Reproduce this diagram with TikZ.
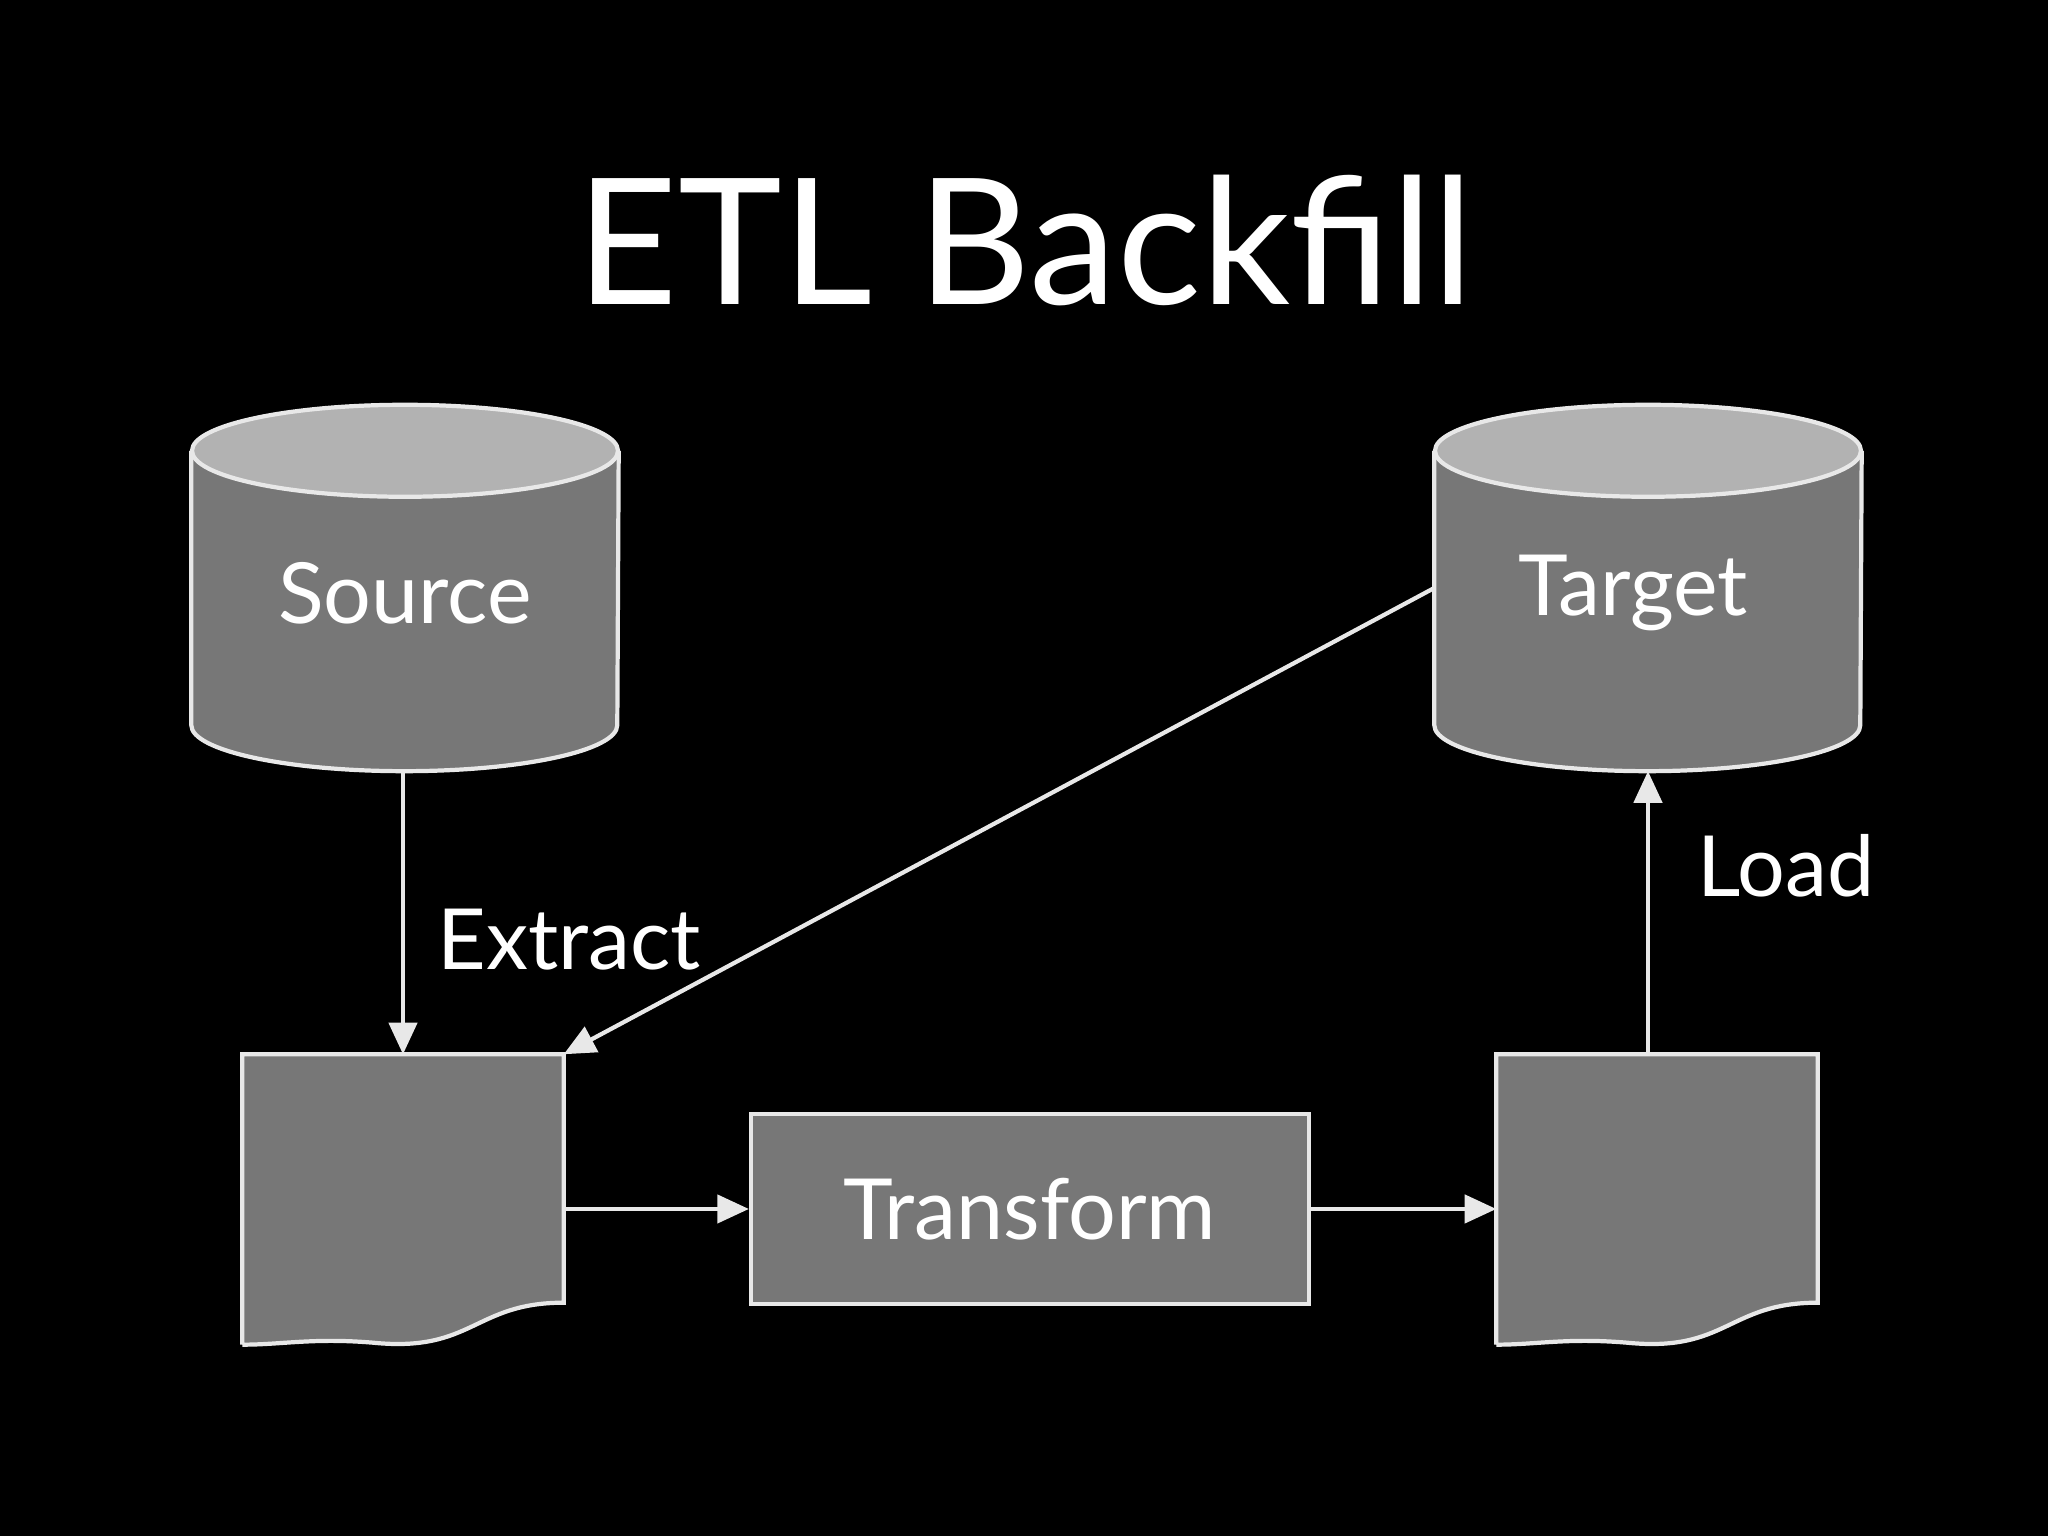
\documentclass[tikz,border=0pt]{standalone}
\usepackage{fontspec}
\setmainfont{Lato}
\usepackage{tikz}
\usetikzlibrary{arrows.meta, calc}
\definecolor{boxgray}{HTML}{777777}
\definecolor{topgray}{HTML}{B2B2B2}
\definecolor{edge}{HTML}{E8E8E8}
\tikzstyle{frame} = [rectangle, draw = none, inner sep=0pt]
\tikzstyle{shade} = [draw = edge, fill = boxgray, line width=1.2pt]
\tikzstyle{label} = [text = white, font=\fontsize{24}{28}\selectfont]
\tikzstyle{arrow} = [draw = edge, line width=1.2pt, -{Triangle[length=9pt, width=8pt]}]

\begin{document}
\begin{tikzpicture}
	\fill[black] (0,0) rectangle (20.48,15.36);
	\useasboundingbox (0,0) rectangle (20.48,15.36);
	\node (title) [text = white, font=\fontsize{50}{56}\selectfont] at (10.25,12.95) {ETL Backfill};
	
	\node (source) [frame, minimum width=4.26cm, minimum height=3.65cm] at (4.05,9.48) {};
	\node (target) [frame, minimum width=4.26cm, minimum height=3.65cm] at (16.48,9.48) {};
	\node (doc1) [frame, minimum width=3.2cm, minimum height=2.47cm] at (4.03,3.575) {};
	\node (doc2) [frame, minimum width=3.2cm, minimum height=2.47cm] at (16.57,3.575) {};
	\node (transform) [rectangle, shade, minimum width=5.58cm, minimum height=1.9cm, label] at (10.3,3.27) {Transform};
	
	% cylinders
	\foreach \db in {source, target} {
		\draw [shade] ($(\db.north west)+(0,-0.46)$) -- ($(\db.south west)+(0,0.46)$)
			arc [start angle=180, end angle=360, x radius=2.13cm, y radius=0.46cm]
			-- ($(\db.north east)+(0,-0.46)$);
		\draw [draw = edge, fill = topgray, line width=1.2pt] ($(\db.north)+(0,-0.46)$) ellipse [x radius=2.13cm, y radius=0.46cm];
	}
	\node [label] at ($(source)+(0,-0.05)$) {Source};
	\node [label] at ($(target)+(-0.15,-0.05)$) {Target};
	
	% documents
	\foreach \doc in {doc1, doc2} {
		\draw [shade] (\doc.south west) ++(0,-0.42) -- (\doc.north west) -- (\doc.north east) -- (\doc.south east)
			.. controls +(-0.9,0) and +(1.0,-0.1) .. ($(\doc.south)+(-0.3,-0.4)$)
			.. controls +(-0.6,0.05) and +(0.4,0) .. ($(\doc.south west)+(0,-0.42)$);
	}
	
	\draw [arrow] (source.south -| doc1.north) -- (doc1.north);
	\draw [arrow] (target.west) -- (doc1.north east);
	\draw [arrow] (doc1.east |- transform) -- (transform.west);
	\draw [arrow] (transform.east) -- (doc2.west |- transform);
	\draw [arrow] (doc2.north -| target.south) -- (target.south);
	
	\node [label, anchor=west] at (4.25,5.96) {Extract};
	\node [label, anchor=west] at (16.85,6.7) {Load};
\end{tikzpicture}
\end{document}
